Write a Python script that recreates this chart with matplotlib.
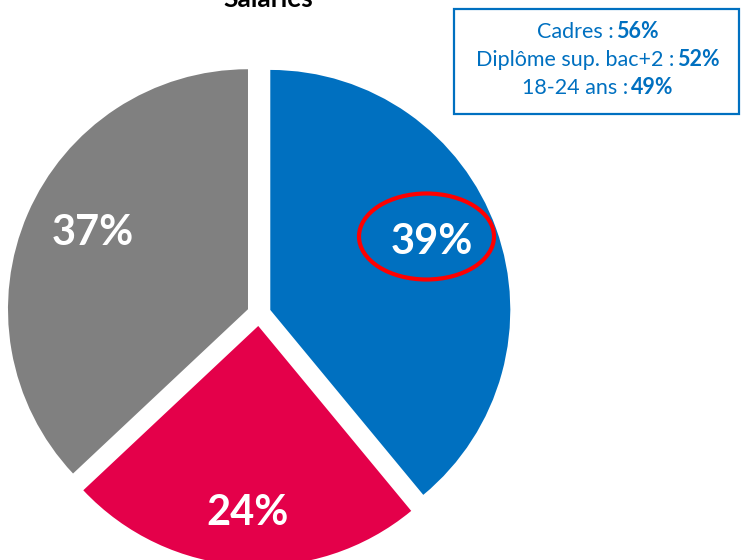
import matplotlib.pyplot as plt
from matplotlib.patches import Ellipse, Rectangle
from matplotlib.offsetbox import TextArea, HPacker, AnnotationBbox

plt.rcParams['font.family'] = ['Lato', 'DejaVu Sans']

# slices clockwise from 12 o'clock
shares = [39, 24, 37]
colours = ['#0070C0', '#E4004A', '#808080']

# call-out box
box_labels = ['Cadres :', 'Diplôme sup. bac+2 :', '18-24 ans :']
box_values = ['56%', '52%', '49%']

title = 'Salariés'

fig = plt.figure(figsize=(7.42, 5.6), dpi=100)
ax = fig.add_axes([0, 0, 1, 1])

# explode is an absolute offset here (data units = pixels)
wedges, texts, autotexts = ax.pie(
    shares, colors=colours, startangle=90, counterclock=False,
    explode=[12] * len(shares), radius=240, center=(259, 246),
    autopct='%d%%', pctdistance=0.74,
    textprops=dict(color='white', fontsize=30, fontweight='bold'))

# small nudges so the labels sit where the original has them
for t, (dx, dy) in zip(autotexts, [(-6, 8), (0, -10), (8, 6)]):
    x, y = t.get_position()
    t.set_position((x + dx, y + dy))

ax.set_xlim(0, 742)
ax.set_ylim(0, 560)
ax.set_aspect('equal')
ax.axis('off')

# highlight the blue share
ax.add_patch(Ellipse((426.5, 560 - 236.5), 135, 86, fill=False,
                     edgecolor='#FF0000', lw=3))

fig.text(268 / 742, 1 - 7 / 560, title, ha='center', va='baseline',
         fontsize=19, fontweight='bold')

# call-out box with mixed weights
fig.patches.append(Rectangle((454 / 742, 1 - 114 / 560), 285 / 742, 105 / 560,
                             transform=fig.transFigure, fill=False,
                             edgecolor='#0070C0', lw=1.6))
ys = [32, 59, 87]
for lab, val, y in zip(box_labels, box_values, ys):
    row = HPacker(children=[
        TextArea(lab, textprops=dict(color='#0070C0', fontsize=15.5)),
        TextArea(val, textprops=dict(color='#0070C0', fontsize=15.5,
                                     fontweight='bold'))],
        sep=2, pad=0, align='baseline')
    fig.add_artist(AnnotationBbox(row, (598 / 742, 1 - y / 560),
                                  xycoords='figure fraction',
                                  box_alignment=(0.5, 0.5), frameon=False))

fig.savefig('out.png', dpi=100)
